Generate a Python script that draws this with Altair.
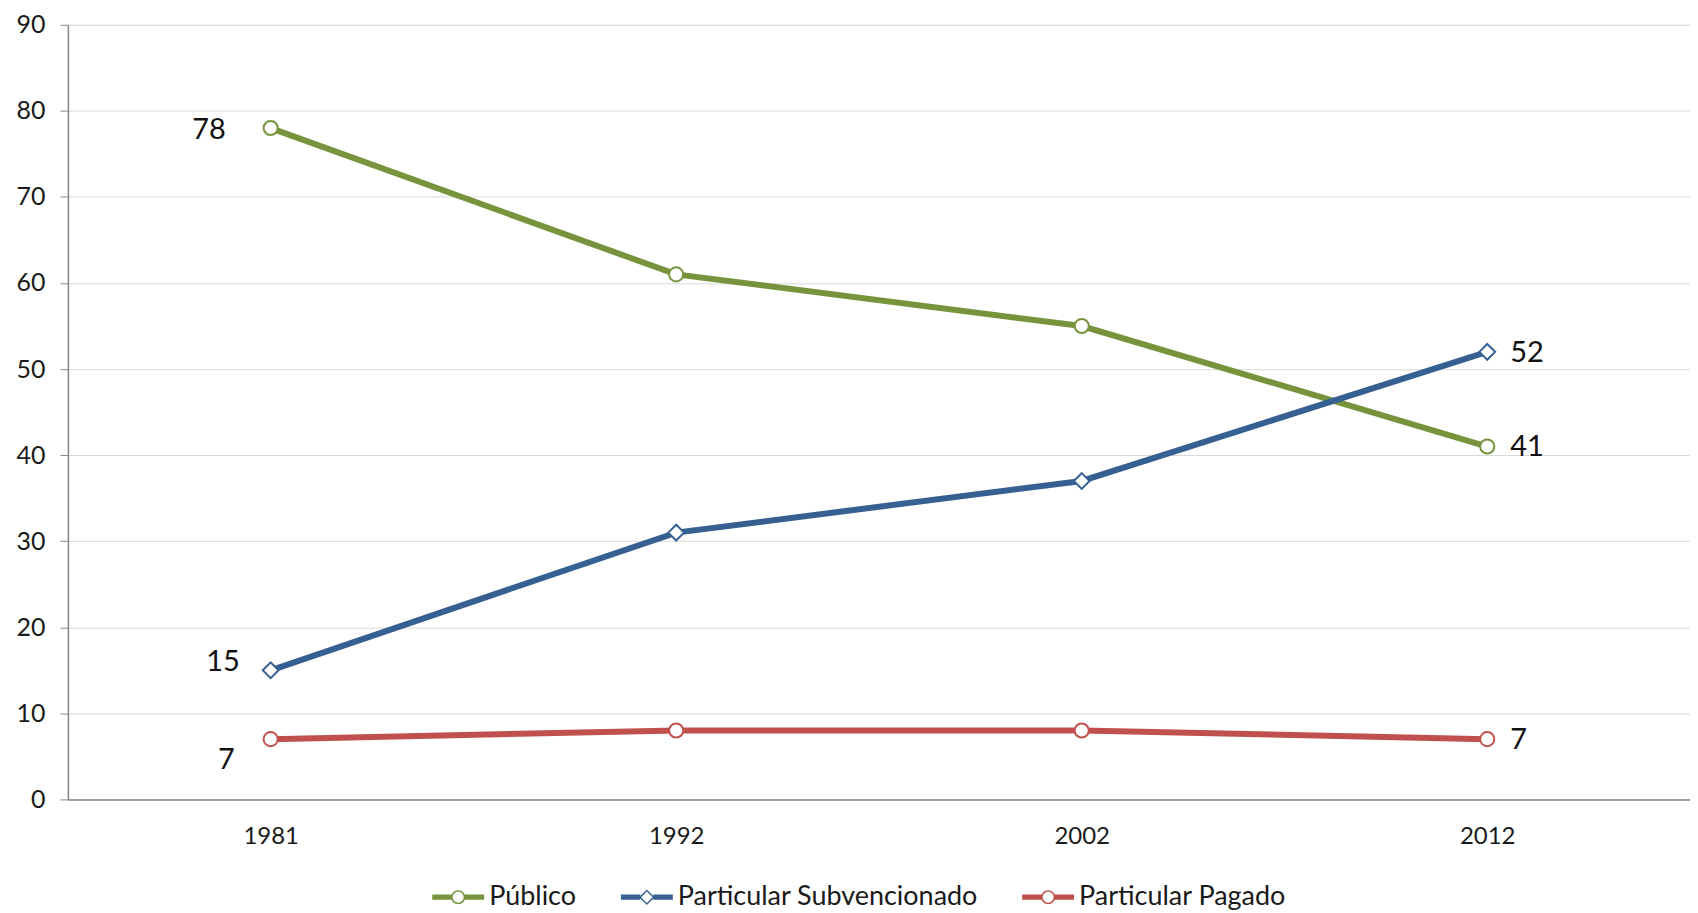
import altair as alt
import pandas as pd

years = ["1981", "1992", "2002", "2012"]
series = ["Público", "Particular Subvencionado", "Particular Pagado"]
publico = [78, 61, 55, 41]
subvencionado = [15, 31, 37, 52]
pagado = [7, 8, 8, 7]
colors = ["#77933C", "#376092", "#C0504D"]

values = {"Público": publico, "Particular Subvencionado": subvencionado, "Particular Pagado": pagado}
rows = []
for s in series:
    for y, v in zip(years, values[s]):
        rows.append({"year": y, "series": s, "value": v})
df = pd.DataFrame(rows)

FONT = "Lato"

# legend symbols: line + hollow marker (ring via opposite winding)
ring = ("M0.27,0 A0.27,0.27 0 1,1 -0.27,0 A0.27,0.27 0 1,1 0.27,0 Z "
        "M0.21,0 A0.21,0.21 0 1,0 -0.21,0 A0.21,0.21 0 1,0 0.21,0 Z ")
dia = ("M0.3,0 L0,0.3 L-0.3,0 L0,-0.3 Z "
       "M0.22,0 L0,-0.22 L-0.22,0 L0,0.22 Z ")
bar = ("M-1,-0.1 L-0.25,-0.1 L-0.25,0.1 L-1,0.1 Z "
       "M0.25,-0.1 L1,-0.1 L1,0.1 L0.25,0.1 Z")
legend_shapes = [ring + bar, dia + bar, ring + bar]

x = alt.X("year:O", scale=alt.Scale(type="point", padding=0.5), sort=years,
          axis=alt.Axis(title=None, labelAngle=0, ticks=False, labelPadding=25,
                        labelFontSize=24, labelFont=FONT, labelColor="#1a1a1a",
                        domainColor="#888888", domainWidth=1.5, grid=False))
y = alt.Y("value:Q", scale=alt.Scale(domain=[0, 90], nice=False),
          axis=alt.Axis(title=None, values=list(range(0, 91, 10)), tickSize=8,
                        tickColor="#888888", domainColor="#888888", domainWidth=1.5,
                        labelPadding=15, labelFontSize=25, labelFont=FONT,
                        labelColor="#1a1a1a", gridColor="#d9d9d9", gridWidth=1))
# stroke scale with a sorted (not explicit) domain so its hidden legend stays separate
stroke_enc = alt.Stroke("series:N", sort=series, scale=alt.Scale(range=colors), legend=None)

base = alt.Chart(df)

lines = base.mark_line(strokeWidth=6).encode(x=x, y=y, stroke=stroke_enc, detail="series:N")

circles = base.transform_filter(alt.datum.series != "Particular Subvencionado").mark_point(
    shape="circle", size=200, filled=True, fill="white", strokeWidth=2, opacity=1
).encode(x=x, y=y, stroke=stroke_enc)

diamonds = base.transform_filter(alt.datum.series == "Particular Subvencionado").mark_point(
    shape="diamond", size=250, filled=True, fill="white", strokeWidth=2, opacity=1
).encode(x=x, y=y, stroke=stroke_enc)

legend_layer = base.mark_point(filled=True, size=2704, fillOpacity=0, strokeOpacity=0).encode(
    x=x, y=y,
    color=alt.Color("series:N", scale=alt.Scale(domain=series, range=colors),
                    legend=alt.Legend(title=None, orient="none", direction="horizontal",
                                      legendX=365, legendY=848, symbolSize=2704,
                                      symbolOpacity=1, symbolStrokeWidth=0,
                                      labelFontSize=27, labelFont=FONT, labelColor="#1a1a1a",
                                      labelLimit=0, labelOffset=5, columnPadding=44)),
    shape=alt.Shape("series:N", scale=alt.Scale(domain=series, range=legend_shapes)),
)

def lab(s, yr, dx, dy, align):
    return base.transform_filter(
        (alt.datum.series == s) & (alt.datum.year == yr)
    ).mark_text(align=align, baseline="middle", dx=dx, dy=dy, fontSize=29,
                font=FONT, color="#111111").encode(x=x, y=y, text="value:Q")

labels = [
    lab("Público", "1981", -45, 2, "right"),
    lab("Particular Subvencionado", "1981", -31, -8, "right"),
    lab("Particular Pagado", "1981", -36, 21, "right"),
    lab("Público", "2012", 23, 1, "left"),
    lab("Particular Subvencionado", "2012", 23, 1, "left"),
    lab("Particular Pagado", "2012", 23, 1, "left"),
]

chart = alt.layer(lines, circles, diamonds, legend_layer, *labels).properties(
    width=1625, height=776,
    autosize=alt.AutoSizeParams(type="none"),
    padding={"left": 60, "top": 16, "right": 0, "bottom": 112},
).configure_view(stroke=None).configure(background="white")

chart.save("out.html", embed_options={"renderer": "svg", "actions": False})
